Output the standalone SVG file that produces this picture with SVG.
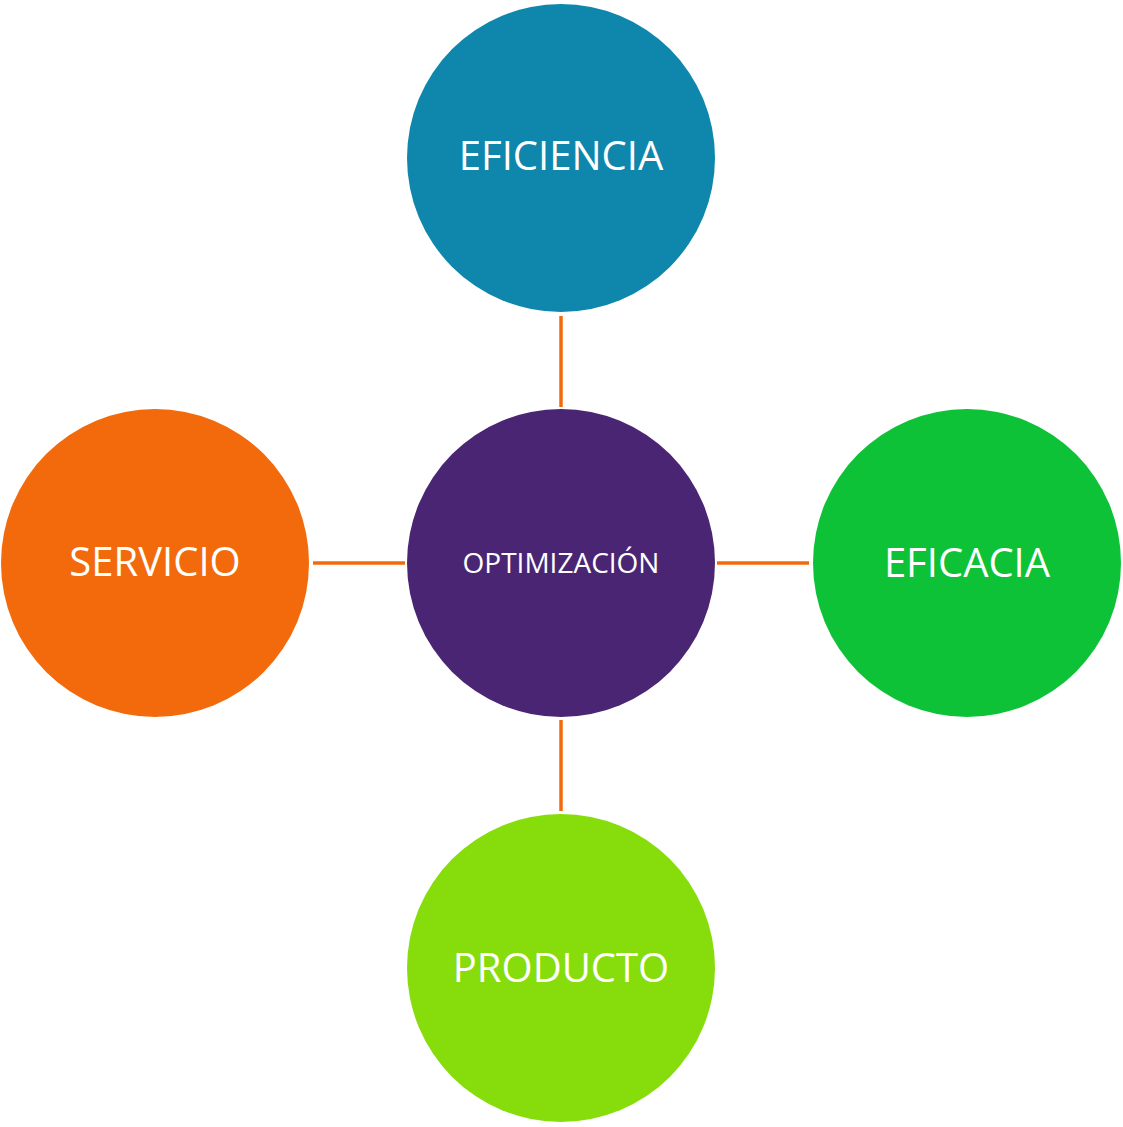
<svg xmlns="http://www.w3.org/2000/svg" width="1123" height="1127" viewBox="0 0 1123 1127">
<style>
.lbl{font-family:"Open Sans","Liberation Sans",sans-serif;fill:#ffffff;text-anchor:middle}
.big{font-size:40px}
.small{font-size:28px}
.conn{stroke:#f26a0c;stroke-width:3.5;fill:none}
</style>
<rect width="1123" height="1127" fill="#ffffff"/>
<g id="connectors">
<line class="conn" x1="561" y1="316" x2="561" y2="407"/>
<line class="conn" x1="717" y1="563" x2="809" y2="563"/>
<line class="conn" x1="561" y1="720" x2="561" y2="811"/>
<line class="conn" x1="313" y1="563" x2="405" y2="563"/>
</g>
<g id="eficiencia">
<circle cx="561" cy="158" r="154" fill="#0f86ab"/>
<text class="lbl big" x="561" y="170">EFICIENCIA</text>
</g>
<g id="optimizacion">
<circle cx="561" cy="563" r="154" fill="#4a2574"/>
<text class="lbl small" x="561" y="573">OPTIMIZACIÓN</text>
</g>
<g id="servicio">
<circle cx="155" cy="563" r="154" fill="#f26a0c"/>
<text class="lbl big" x="155" y="576">SERVICIO</text>
</g>
<g id="eficacia">
<circle cx="967" cy="563" r="154" fill="#0dc236"/>
<text class="lbl big" x="967" y="577">EFICACIA</text>
</g>
<g id="producto">
<circle cx="561" cy="968" r="154" fill="#86dd0b"/>
<text class="lbl big" x="561" y="982">PRODUCTO</text>
</g>
</svg>
